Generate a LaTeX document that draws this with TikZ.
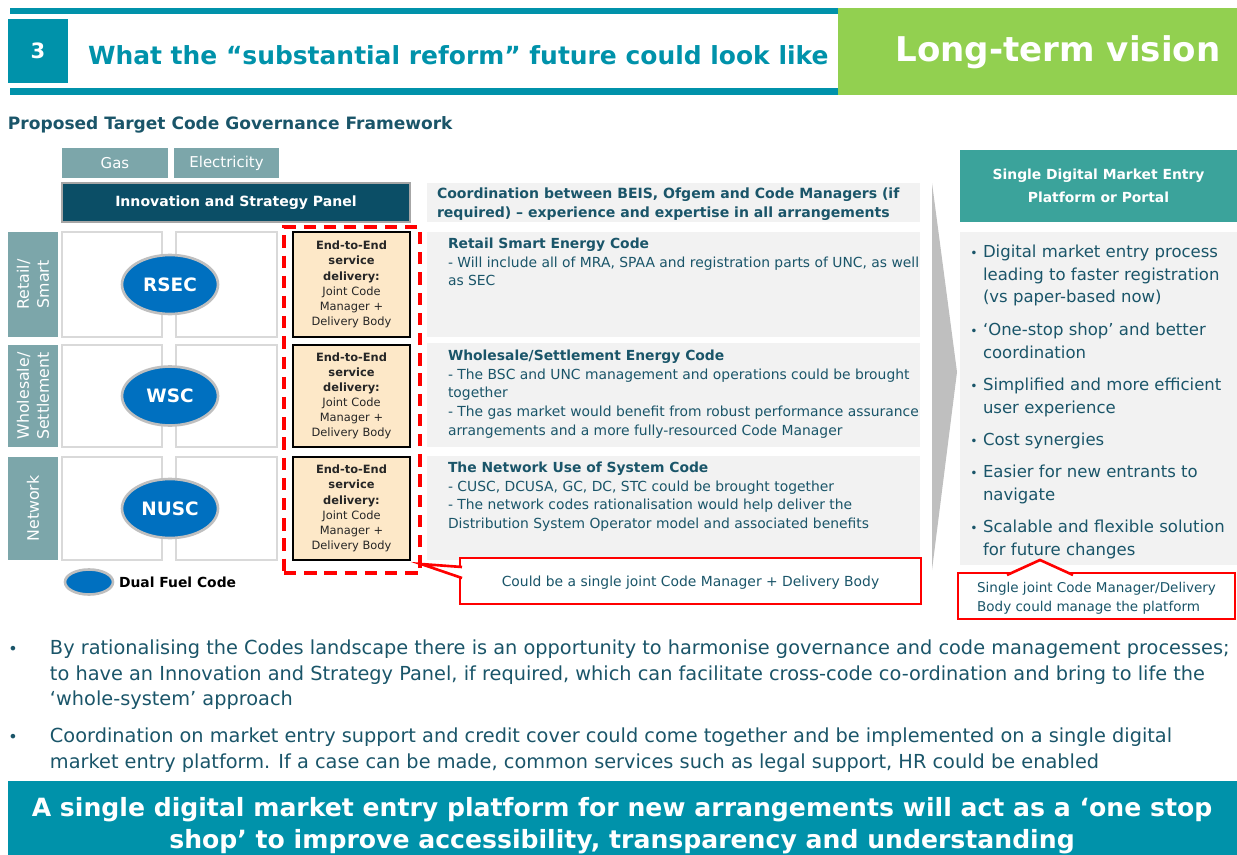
\documentclass[tikz,border=0pt]{standalone}
\usepackage{fontspec}
\setmainfont{DejaVu Sans}
\usetikzlibrary{shapes.geometric,fit}

\definecolor{hdteal}{HTML}{0092AA}
\definecolor{vgreen}{HTML}{92D050}
\definecolor{ink}{HTML}{1A5569}
\definecolor{greyteal}{HTML}{7CA6AA}
\definecolor{panelnavy}{HTML}{0B4E66}
\definecolor{boxgrey}{HTML}{F2F2F2}
\definecolor{portal}{HTML}{3BA39B}
\definecolor{codeblue}{HTML}{0070C0}
\definecolor{peach}{HTML}{FDE8C8}
\definecolor{calloutred}{HTML}{FF0000}
\definecolor{chevron}{HTML}{BFBFBF}
\newcommand{\fsz}[2]{\fontsize{#1}{#2}\selectfont}
\newcommand{\rowhead}[1]{{\bfseries\fsz{7.9}{10.6}#1}}

\begin{document}
\begin{tikzpicture}[x=0.02cm, y=-0.02cm,
    every node/.style={inner sep=0pt, outer sep=0pt},
    tile/.style={fill=greyteal},
    cell/.style={draw=black!15, line width=1.2pt, fill=white},
    codeoval/.style={ellipse, fill=codeblue, draw=black!25, line width=1.5pt,
        minimum width=1.92cm, minimum height=1.18cm, text=white,
        font=\bfseries\fsz{10.5}{11}},
    etebox/.style={draw=black, line width=1.6pt, fill=peach},
    etetext/.style={align=center, text=black!85, font=\fsz{6.5}{8.6}},
    infobox/.style={fill=boxgrey},
    infotext/.style={anchor=north west, align=left, text=ink, font=\fsz{7.9}{10.6}},
    callout/.style={draw=calloutred, line width=1.5pt, fill=white},
    pointer/.style={draw=calloutred, line width=1.5pt, fill=white, line join=miter},
  ]
  \clip (0,0) rectangle (1237,855);

  % header band
  \fill[hdteal] (10,8) rectangle (838,14);
  \fill[hdteal] (10,88) rectangle (838,95);
  \node[fill=hdteal, fit={(8,19)(68,83)}] (num) {};
  \node[text=white, font=\bfseries\fsz{12}{12}] (numtxt) at (num) {3};
  \node[anchor=west, text=hdteal, font=\bfseries\fsz{14.2}{15}] (title) at (88,55)
    {What the “substantial reform” future could look like};
  \node[fill=vgreen, fit={(838,8)(1237,95)}] (vision) {};
  \node[text=white, font=\bfseries\fsz{19.4}{20}] (visiontxt) at (1058,52) {Long-term vision};

  \node[anchor=west, text=ink, font=\bfseries\fsz{9.7}{11}] (frametitle) at (8,125)
    {Proposed Target Code Governance Framework};

  % fuels and panel
  \node[tile, fit={(62,148)(168,178)}] (gas) {};
  \node[text=white, font=\fsz{8.5}{10}] (gastxt) at (gas) {Gas};
  \node[tile, fit={(174,148)(279,178)}] (elec) {};
  \node[text=white, font=\fsz{8.5}{10}] (electxt) at (elec) {Electricity};
  \node[fill=panelnavy, draw=black!35, line width=1pt, fit={(62,183)(410,222)}] (panel) {};
  \node[text=white, font=\bfseries\fsz{8}{9}] (paneltxt) at (panel) {Innovation and Strategy Panel};
  \node[infobox, fit={(427,183)(920,222)}] (coord) {};
  \node[infotext, font=\bfseries\fsz{8}{10.8}] (coordtxt) at (437,188)
    {Coordination between BEIS, Ofgem and Code Managers (if\\required) – experience and expertise in all arrangements};

  % code rows
  \foreach \n/\ya/\yb/\lab/\code in {1/232/337/{Retail/\\Smart}/RSEC,
      2/345/447/{Wholesale/\\Settlement}/WSC, 3/457/560/Network/NUSC} {
    \node[tile, fit={(8,\ya)(58,\yb)}] (lab\n) {};
    \node[rotate=90, text=white, align=center, font=\fsz{9}{11.4}] (labtxt\n) at (lab\n) {\lab};
    \node[cell, fit={(62,\ya)(162,\yb)}] (cella\n) {};
    \node[cell, fit={(176,\ya)(277,\yb)}] (cellb\n) {};
    \node[codeoval] (code\n) at (170,{(\ya+\yb)/2}) {\code};
    \node[etebox, fit={(293,\ya)(410,\yb)}] (ete\n) {};
    \node[etetext] (etetxt\n) at (ete\n)
      {\textbf{End-to-End}\\\textbf{service}\\\textbf{delivery:}\\Joint Code\\Manager +\\Delivery Body};
  }

  % legend
  \node[ellipse, fill=codeblue, draw=black!25, line width=1.5pt,
    minimum width=0.96cm, minimum height=0.5cm] (legoval) at (89,582) {};
  \node[anchor=west, font=\bfseries\fsz{7.9}{9}] (legtxt) at (119,582) {Dual Fuel Code};

  % code descriptions
  \node[infobox, fit={(427,232)(920,337)}] (info1) {};
  \node[infotext] (infotxt1) at (448,238)
    {\rowhead{Retail Smart Energy Code}\\- Will include all of MRA, SPAA and registration parts of UNC, as well\\as SEC};
  \node[infobox, fit={(427,343)(920,447)}] (info2) {};
  \node[infotext] (infotxt2) at (448,350)
    {\rowhead{Wholesale/Settlement Energy Code}\\- The BSC and UNC management and operations could be brought\\together\\- The gas market would benefit from robust performance assurance\\arrangements and a more fully-resourced Code Manager};
  \node[infobox, fit={(427,456)(920,560)}] (info3) {};
  \node[infotext] (infotxt3) at (448,462)
    {\rowhead{The Network Use of System Code}\\- CUSC, DCUSA, GC, DC, STC could be brought together\\- The network codes rationalisation would help deliver the\\Distribution System Operator model and associated benefits};

  % shared delivery frame and its note
  \node[draw=calloutred, line width=2pt, dash pattern=on 7pt off 4.5pt,
    fit={(284,227)(420,573)}] (frame) {};
  \node[callout, fit={(460,558)(921,604)}] (note1) {};
  \node[text=ink, font=\fsz{7.9}{9}] (note1txt) at ([yshift=-0.04cm]note1)
    {Could be a single joint Code Manager + Delivery Body};
  \coordinate (tip1) at (421,564);
  \draw[pointer] (462,567) -- (tip1) -- (462,578);

  % chevron
  \fill[chevron] (932,183) -- (957,372) -- (932,570) -- cycle;

  % portal
  \node[fill=portal, fit={(960,150)(1237,222)}] (portal) {};
  \node[text=white, align=center, font=\bfseries\fsz{7.9}{12.8}] (portaltxt) at (portal)
    {Single Digital Market Entry\\Platform or Portal};
  \node[infobox, fit={(960,232)(1237,565)}] (benefits) {};
  \foreach \k/\yt/\txt in {1/245/{Digital market entry process\\leading to faster registration\\(vs paper-based now)},
      2/323/{‘One-stop shop’ and better\\coordination},
      3/378/{Simplified and more efficient\\user experience},
      4/433/{Cost synergies},
      5/465/{Easier for new entrants to\\navigate},
      6/520/{Scalable and flexible solution\\for future changes}} {
    \node[anchor=north west, align=left, text=ink, font=\fsz{9.4}{12.8}] (benefit\k) at (983,\yt)
      {\llap{\fsz{7}{7}•\hspace{3pt}}\txt};
  }
  \node[callout, fit={(958,573)(1235,619)}] (note2) {};
  \node[text=ink, align=left, font=\fsz{7.7}{10.8}] (note2txt) at ([yshift=-0.04cm]note2)
    {Single joint Code Manager/Delivery\\Body could manage the platform};
  \coordinate (tip2) at (1040,560);
  \draw[pointer] (1007,575) -- (tip2) -- (1073,575);

  % bottom bullets
  \node[text=ink, font=\fsz{9}{9}] (dot1) at (13,650) {•};
  \node[anchor=north west, align=left, text=ink, font=\fsz{11}{14.5}] (point1) at (50,640)
    {By rationalising the Codes landscape there is an opportunity to harmonise governance and code management processes;\\to have an Innovation and Strategy Panel, if required, which can facilitate cross-code co-ordination and bring to life the\\‘whole-system’ approach};
  \node[text=ink, font=\fsz{9}{9}] (dot2) at (13,738) {•};
  \node[anchor=north west, align=left, text=ink, font=\fsz{11}{14.5}] (point2) at (50,728)
    {Coordination on market entry support and credit cover could come together and be implemented on a single digital\\market entry platform. If a case can be made, common services such as legal support, HR could be enabled};

  % banner
  \node[fill=hdteal, fit={(8,781)(1237,880)}] (banner) {};
  \node[align=center, text=white, font=\bfseries\fsz{14.3}{18.2}] (bannertxt) at (622,826)
    {A single digital market entry platform for new arrangements will act as a ‘one stop\\shop’ to improve accessibility, transparency and understanding};
\end{tikzpicture}
\end{document}
